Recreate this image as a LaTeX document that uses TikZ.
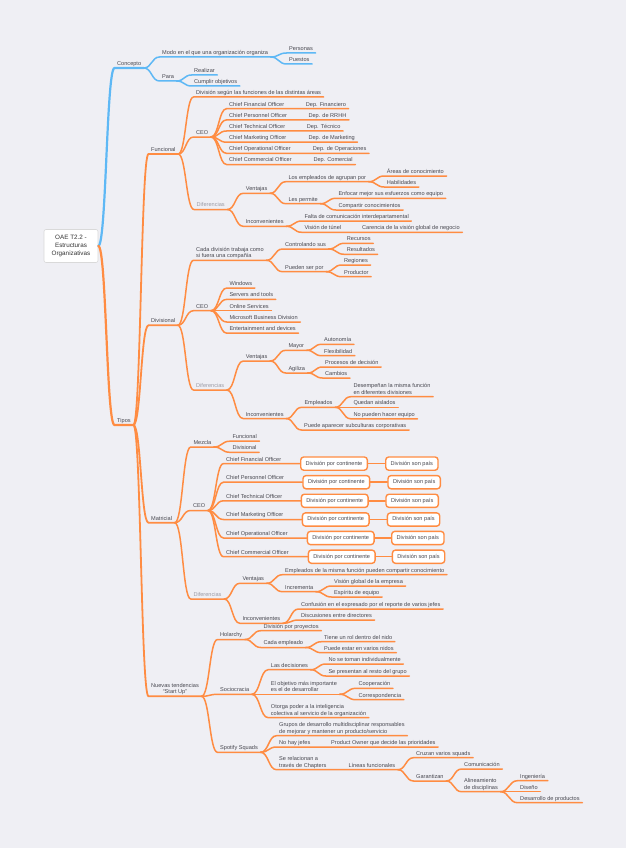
\documentclass[tikz,border=0pt]{standalone}
\usepackage{fontspec}
\setmainfont{Liberation Sans}
\usepackage{xcolor}
\usetikzlibrary{calc}
\definecolor{paper}{RGB}{239,239,244}
\definecolor{ink}{RGB}{72,72,80}
\definecolor{faded}{RGB}{155,155,165}
\definecolor{sky}{RGB}{94,184,245}
\definecolor{tang}{RGB}{255,140,66}
\tikzstyle{topic}   = [anchor=south west, inner xsep=2.5pt, inner ysep=1.2pt,
    text depth=1.2pt, align=left, text=ink, font=\fontsize{5.6}{6.7}\selectfont]
\tikzstyle{faint}   = [topic, text=faded]
\tikzstyle{cell}    = [rectangle, rounded corners=3pt, draw=tang, line width=1.4pt,
    fill=white, anchor=west, minimum height=13.2pt, inner xsep=5pt, text=ink,
    font=\fontsize{5.6}{6.7}\selectfont]
\tikzstyle{central} = [rectangle, rounded corners=2pt, draw=black!15, line width=0.6pt,
    fill=white, align=center, minimum width=54pt, minimum height=33pt, text=black!80,
    font=\fontsize{6.3}{8}\selectfont]
\tikzstyle{elbow}   = [to path={let \p1=(\tikztostart), \p2=(\tikztotarget) in
    .. controls ({0.5*\x1+0.5*\x2},\y1) and ({0.5*\x1+0.5*\x2},\y2) .. (\tikztotarget)}]
\tikzstyle{bline}   = [draw=sky, line width=1.5pt, line cap=round]
\tikzstyle{oline}   = [draw=tang, line width=1.5pt, line cap=round]
\begin{document}
\begin{tikzpicture}[x=1pt, y=-1pt]
    \fill [paper] (0,0) rectangle (626,848);
    \useasboundingbox (0,0) rectangle (626,848);

    \node (root)     [central] at (71,246) {OAE T2.2 -\\Estructuras\\Organizativas};

    \node (concepto) [topic] at (114.5,68)  {Concepto};
    \node (modo)     [topic] at (159.5,57)  {Modo en el que una organización organiza};
    \node (para)     [topic] at (159.5,81)  {Para};
    \node (personas) [topic] at (286.5,53)  {Personas};
    \node (puestos)  [topic] at (286.5,64)  {Puestos};
    \node (realizar) [topic] at (191.5,75)  {Realizar};
    \node (cumplir)  [topic] at (191.5,86)  {Cumplir objetivos};

    \node (tipos)     [topic] at (114.5,425) {Tipos};

    \node (funcional) [topic] at (148.5,154) {Funcional};
    \node (fsegun)    [topic] at (193.5,97)  {División según las funciones de las distintas áreas};
    \node (fceo)      [topic] at (193.5,137) {CEO};
    \node (fdif)      [faint] at (194,209.5) {Diferencias};
    \node (fc1) [topic] at (226.5,108.7) {Chief Financial Officer};
    \node (fc2) [topic] at (226.5,119.9) {Chief Personnel Officer};
    \node (fc3) [topic] at (226.5,131.0) {Chief Technical Officer};
    \node (fc4) [topic] at (226.5,142.2) {Chief Marketing Officer};
    \node (fc5) [topic] at (226.5,153.3) {Chief Operational Officer};
    \node (fc6) [topic] at (226.5,164.5) {Chief Commercial Officer};
    \node (fd1) [topic] at (303.2,108.7) {Dep. Financiero};
    \node (fd2) [topic] at (305.8,119.9) {Dep. de RRHH};
    \node (fd3) [topic] at (304.2,131.0) {Dep. Técnico};
    \node (fd4) [topic] at (305.8,142.2) {Dep. de Marketing};
    \node (fd5) [topic] at (310.2,153.3) {Dep. de Operaciones};
    \node (fd6) [topic] at (310.8,164.5) {Dep. Comercial};
    \node (fvent)     [topic] at (243.2,193.3) {Ventajas};
    \node (finc)      [topic] at (243.2,226.3) {Inconvenientes};
    \node (fagrup)    [topic] at (285.8,181.7) {Los empleados de agrupan por};
    \node (fpermite)  [topic] at (285.8,203.7) {Les permite};
    \node (fareas)    [topic] at (384.2,176)   {Áreas de conocimiento};
    \node (fhabil)    [topic] at (384.2,187)   {Habilidades};
    \node (fenfocar)  [topic] at (335.8,198.3) {Enfocar mejor sus esfuerzos como equipo};
    \node (fcompart)  [topic] at (335.8,210)   {Compartir conocimientos};
    \node (ffalta)    [topic] at (301.8,221)   {Falta de comunicación interdepartamental};
    \node (ftunel)    [topic] at (301.8,232.3) {Visión de túnel};
    \node (fcarencia) [topic] at (359.5,232.3) {Carencia de la visión global de negocio};

    \node (divisional) [topic] at (148.5,325.3) {Divisional};
    \node (dcada)      [topic] at (193.5,260.3) {Cada división trabaja como\\si fuera una compañía};
    \node (dceo)       [topic] at (193.5,310.7) {CEO};
    \node (ddif)       [faint] at (193.5,390)   {Diferencias};
    \node (dcontrol)   [topic] at (282.5,249)   {Controlando sus};
    \node (dpueden)    [topic] at (282.5,271.7) {Pueden ser por};
    \node (drecursos)  [topic] at (344.2,243.3) {Recursos};
    \node (dresult)    [topic] at (344.2,254.3) {Resultados};
    \node (dregiones)  [topic] at (341.5,265)   {Regiones};
    \node (dproduct)   [topic] at (341.5,276.7) {Productor};
    \node (dwin)       [topic] at (226.8,288)   {Windows};
    \node (dserv)      [topic] at (226.8,299.4) {Servers and tools};
    \node (donline)    [topic] at (226.8,310.7) {Online Services};
    \node (dmsbd)      [topic] at (226.8,322)   {Microsoft Business Division};
    \node (dent)       [topic] at (226.8,333.2) {Entertainment and devices};
    \node (dvent)      [topic] at (243.2,361)   {Ventajas};
    \node (dinc)       [topic] at (243.2,418.6) {Inconvenientes};
    \node (dmayor)     [topic] at (285.8,350.3) {Mayor};
    \node (dagil)      [topic] at (285.8,373)   {Agiliza};
    \node (dauto)      [topic] at (321.5,344.3) {Autonomía};
    \node (dflex)      [topic] at (321.5,355.7) {Flexibilidad};
    \node (dproc)      [topic] at (322.5,367)   {Procesos de decisión};
    \node (dcamb)      [topic] at (322.5,378)   {Cambios};
    \node (demp)       [topic] at (301.8,407.3) {Empleados};
    \node (dsubc)      [topic] at (301.5,430)   {Puede aparecer subculturas corporativas};
    \node (ddesemp)    [topic] at (350.8,396.7) {Desempeñan la misma función\\en diferentes divisiones};
    \node (daisl)      [topic] at (350.8,407.3) {Quedan aislados};
    \node (dequipo)    [topic] at (350.8,418.8) {No pueden hacer equipo};

    \node (matricial) [topic] at (148.5,522.7) {Matricial};
    \node (mmezcla)   [topic] at (190.8,447)   {Mezcla};
    \node (mceo)      [topic] at (190.5,510.5) {CEO};
    \node (mdif)      [faint] at (190.8,599)   {Diferencias};
    \node (mfunc)     [topic] at (229.8,441.2) {Funcional};
    \node (mdivi)     [topic] at (229.8,452.3) {Divisional};
    \node (mc1) [topic] at (223.5,463.6) {Chief Financial Officer};
    \node (mc2) [topic] at (223.5,482.2) {Chief Personnel Officer};
    \node (mc3) [topic] at (223.5,500.8) {Chief Technical Officer};
    \node (mc4) [topic] at (223.5,519.5) {Chief Marketing Officer};
    \node (mc5) [topic] at (223.5,538)   {Chief Operational Officer};
    \node (mc6) [topic] at (223.5,556.7) {Chief Commercial Officer};
    \node (mk1) [cell] at (300,463.6)   {División por continente};
    \node (mk2) [cell] at (302.3,482.2) {División por continente};
    \node (mk3) [cell] at (300.7,500.8) {División por continente};
    \node (mk4) [cell] at (301.7,519.5) {División por continente};
    \node (mk5) [cell] at (306.7,538)   {División por continente};
    \node (mk6) [cell] at (307.7,556.7) {División por continente};
    \node (mp1) [cell] at (385,463.6)   {División son país};
    \node (mp2) [cell] at (387.3,482.2) {División son país};
    \node (mp3) [cell] at (385.3,500.8) {División son país};
    \node (mp4) [cell] at (386.7,519.5) {División son país};
    \node (mp5) [cell] at (391,538)     {División son país};
    \node (mp6) [cell] at (391.7,556.7) {División son país};
    \node (mvent)     [topic] at (239.8,583.3) {Ventajas};
    \node (minc)      [topic] at (239.8,623.3) {Inconvenientes};
    \node (mcomp)     [topic] at (282.5,574.7) {Empleados de la misma función pueden compartir conocimiento};
    \node (mincr)     [topic] at (282.5,591.7) {Incrementa};
    \node (mvision)   [topic] at (331.5,586)   {Visión global de la empresa};
    \node (mespiritu) [topic] at (331.5,597)   {Espíritu de equipo};
    \node (mconf)     [topic] at (298.5,609)   {Confusión en el expresado por el reporte de varios jefes};
    \node (mdisc)     [topic] at (298.5,620)   {Discusiones entre directores};

    \node (nuevas)   [topic, align=center] at (148.5,696.3) {Nuevas tendencias\\“Start Up”};
    \node (holarchy) [topic] at (217.5,639.5) {Holarchy};
    \node (socio)    [topic] at (217.5,694.3) {Sociocracia};
    \node (spotify)  [topic] at (217.5,752.3) {Spotify Squads};
    \node (nproy)    [topic] at (260.8,630.7) {División por proyectos};
    \node (ncada)    [topic] at (260.8,647.5) {Cada empleado};
    \node (nrol)     [topic] at (321.5,641.7) {Tiene un rol dentro del nido};
    \node (nnidos)   [topic] at (321.5,652.7) {Puede estar en varios nidos};
    \node (ndecis)   [topic] at (268.2,669.7) {Las decisiones};
    \node (nobj)     [topic] at (268.2,694.3) {El objetivo más importante\\es el de desarrollar};
    \node (notorga)  [topic] at (268.2,717.7) {Otorga poder a la inteligencia\\colectiva al servicio de la organización};
    \node (nindiv)   [topic] at (325.8,664)   {No se toman individualmente};
    \node (npres)    [topic] at (325.8,676)   {Se presentan al resto del grupo};
    \node (ncoop)    [topic] at (355.8,688.3) {Cooperación};
    \node (ncorr)    [topic] at (355.8,699.7) {Correspondencia};
    \node (ngrupos)  [topic] at (276.5,735.7) {Grupos de desarrollo multidisciplinar responsables\\de mejorar y mantener un producto/servicio};
    \node (njefes)   [topic] at (276.5,747)   {No hay jefes};
    \node (nrelac)   [topic] at (276.5,769.7) {Se relacionan a\\través de Chapters};
    \node (nowner)   [topic] at (328.5,747)   {Product Owner que decide las prioridades};
    \node (nlineas)  [topic] at (345.8,769.7) {Líneas funcionales};
    \node (ncruzan)  [topic] at (413.5,757.7) {Cruzan varios squads};
    \node (ngarant)  [topic] at (413.5,781)   {Garantizan};
    \node (ncomun)   [topic] at (461.5,769)   {Comunicación};
    \node (nalin)    [topic] at (461.5,791.7) {Alineamiento\\de disciplinas};
    \node (ning)     [topic] at (517.5,780.7) {Ingeniería};
    \node (ndis)     [topic] at (517.5,791.7) {Diseño};
    \node (ndesa)    [topic] at (517.5,802.7) {Desarrollo de productos};

    \draw [bline, line width=2.2pt] (root.east) to[elbow] (concepto.south west) -- (concepto.south east);
    \draw [bline] (concepto.south east) to[elbow] (modo.south west) -- (modo.south east);
    \draw [bline] (concepto.south east) to[elbow] (para.south west) -- (para.south east);
    \draw [bline] (modo.south east) to[elbow] (personas.south west) -- (personas.south east);
    \draw [bline] (modo.south east) to[elbow] (puestos.south west) -- (puestos.south east);
    \draw [bline] (para.south east) to[elbow] (realizar.south west) -- (realizar.south east);
    \draw [bline] (para.south east) to[elbow] (cumplir.south west) -- (cumplir.south east);

    \draw [oline, line width=2.2pt] (root.east) to[elbow] (tipos.south west) -- (tipos.south east);
    \draw [oline, line width=1.8pt] (tipos.south east) to[elbow] (funcional.south west) -- (funcional.south east);
    \draw [oline, line width=1.8pt] (tipos.south east) to[elbow] (divisional.south west) -- (divisional.south east);
    \draw [oline, line width=1.8pt] (tipos.south east) to[elbow] (matricial.south west) -- (matricial.south east);
    \draw [oline, line width=1.8pt] (tipos.south east) to[elbow] (nuevas.south west) -- (nuevas.south east);

    \draw [oline] (funcional.south east) to[elbow] (fsegun.south west) -- (fsegun.south east);
    \draw [oline] (funcional.south east) to[elbow] (fceo.south west) -- (fceo.south east);
    \draw [oline] (funcional.south east) to[elbow] (fdif.south west) -- (fdif.south east);
    \draw [oline] (fceo.south east) to[elbow] (fc1.south west) -- (fd1.south east);
    \draw [oline] (fceo.south east) to[elbow] (fc2.south west) -- (fd2.south east);
    \draw [oline] (fceo.south east) to[elbow] (fc3.south west) -- (fd3.south east);
    \draw [oline] (fceo.south east) to[elbow] (fc4.south west) -- (fd4.south east);
    \draw [oline] (fceo.south east) to[elbow] (fc5.south west) -- (fd5.south east);
    \draw [oline] (fceo.south east) to[elbow] (fc6.south west) -- (fd6.south east);
    \draw [oline] (fdif.south east) to[elbow] (fvent.south west) -- (fvent.south east);
    \draw [oline] (fdif.south east) to[elbow] (finc.south west) -- (finc.south east);
    \draw [oline] (fvent.south east) to[elbow] (fagrup.south west) -- (fagrup.south east);
    \draw [oline] (fvent.south east) to[elbow] (fpermite.south west) -- (fpermite.south east);
    \draw [oline] (fagrup.south east) to[elbow] (fareas.south west) -- (fareas.south east);
    \draw [oline] (fagrup.south east) to[elbow] (fhabil.south west) -- (fhabil.south east);
    \draw [oline] (fpermite.south east) to[elbow] (fenfocar.south west) -- (fenfocar.south east);
    \draw [oline] (fpermite.south east) to[elbow] (fcompart.south west) -- (fcompart.south east);
    \draw [oline] (finc.south east) to[elbow] (ffalta.south west) -- (ffalta.south east);
    \draw [oline] (finc.south east) to[elbow] (ftunel.south west) -- (fcarencia.south east);

    \draw [oline] (divisional.south east) to[elbow] (dcada.south west) -- (dcada.south east);
    \draw [oline] (divisional.south east) to[elbow] (dceo.south west) -- (dceo.south east);
    \draw [oline] (divisional.south east) to[elbow] (ddif.south west) -- (ddif.south east);
    \draw [oline] (dcada.south east) to[elbow] (dcontrol.south west) -- (dcontrol.south east);
    \draw [oline] (dcada.south east) to[elbow] (dpueden.south west) -- (dpueden.south east);
    \draw [oline] (dcontrol.south east) to[elbow] (drecursos.south west) -- (drecursos.south east);
    \draw [oline] (dcontrol.south east) to[elbow] (dresult.south west) -- (dresult.south east);
    \draw [oline] (dpueden.south east) to[elbow] (dregiones.south west) -- (dregiones.south east);
    \draw [oline] (dpueden.south east) to[elbow] (dproduct.south west) -- (dproduct.south east);
    \draw [oline] (dceo.south east) to[elbow] (dwin.south west) -- (dwin.south east);
    \draw [oline] (dceo.south east) to[elbow] (dserv.south west) -- (dserv.south east);
    \draw [oline] (dceo.south east) to[elbow] (donline.south west) -- (donline.south east);
    \draw [oline] (dceo.south east) to[elbow] (dmsbd.south west) -- (dmsbd.south east);
    \draw [oline] (dceo.south east) to[elbow] (dent.south west) -- (dent.south east);
    \draw [oline] (ddif.south east) to[elbow] (dvent.south west) -- (dvent.south east);
    \draw [oline] (ddif.south east) to[elbow] (dinc.south west) -- (dinc.south east);
    \draw [oline] (dvent.south east) to[elbow] (dmayor.south west) -- (dmayor.south east);
    \draw [oline] (dvent.south east) to[elbow] (dagil.south west) -- (dagil.south east);
    \draw [oline] (dmayor.south east) to[elbow] (dauto.south west) -- (dauto.south east);
    \draw [oline] (dmayor.south east) to[elbow] (dflex.south west) -- (dflex.south east);
    \draw [oline] (dagil.south east) to[elbow] (dproc.south west) -- (dproc.south east);
    \draw [oline] (dagil.south east) to[elbow] (dcamb.south west) -- (dcamb.south east);
    \draw [oline] (dinc.south east) to[elbow] (demp.south west) -- (demp.south east);
    \draw [oline] (dinc.south east) to[elbow] (dsubc.south west) -- (dsubc.south east);
    \draw [oline] (demp.south east) to[elbow] (ddesemp.south west) -- (ddesemp.south east);
    \draw [oline] (demp.south east) to[elbow] (daisl.south west) -- (daisl.south east);
    \draw [oline] (demp.south east) to[elbow] (dequipo.south west) -- (dequipo.south east);

    \draw [oline] (matricial.south east) to[elbow] (mmezcla.south west) -- (mmezcla.south east);
    \draw [oline] (matricial.south east) to[elbow] (mceo.south west) -- (mceo.south east);
    \draw [oline] (matricial.south east) to[elbow] (mdif.south west) -- (mdif.south east);
    \draw [oline] (mmezcla.south east) to[elbow] (mfunc.south west) -- (mfunc.south east);
    \draw [oline] (mmezcla.south east) to[elbow] (mdivi.south west) -- (mdivi.south east);
    \draw [oline] (mceo.south east) to[elbow] (mc1.south west) -- (mk1.west);
    \draw [oline] (mceo.south east) to[elbow] (mc2.south west) -- (mk2.west);
    \draw [oline] (mceo.south east) to[elbow] (mc3.south west) -- (mk3.west);
    \draw [oline] (mceo.south east) to[elbow] (mc4.south west) -- (mk4.west);
    \draw [oline] (mceo.south east) to[elbow] (mc5.south west) -- (mk5.west);
    \draw [oline] (mceo.south east) to[elbow] (mc6.south west) -- (mk6.west);
    \draw [oline] (mk1.east) -- (mp1.west);
    \draw [oline] (mk2.east) -- (mp2.west);
    \draw [oline] (mk3.east) -- (mp3.west);
    \draw [oline] (mk4.east) -- (mp4.west);
    \draw [oline] (mk5.east) -- (mp5.west);
    \draw [oline] (mk6.east) -- (mp6.west);
    \draw [oline] (mdif.south east) to[elbow] (mvent.south west) -- (mvent.south east);
    \draw [oline] (mdif.south east) to[elbow] (minc.south west) -- (minc.south east);
    \draw [oline] (mvent.south east) to[elbow] (mcomp.south west) -- (mcomp.south east);
    \draw [oline] (mvent.south east) to[elbow] (mincr.south west) -- (mincr.south east);
    \draw [oline] (mincr.south east) to[elbow] (mvision.south west) -- (mvision.south east);
    \draw [oline] (mincr.south east) to[elbow] (mespiritu.south west) -- (mespiritu.south east);
    \draw [oline] (minc.south east) to[elbow] (mconf.south west) -- (mconf.south east);
    \draw [oline] (minc.south east) to[elbow] (mdisc.south west) -- (mdisc.south east);

    \draw [oline] (nuevas.south east) to[elbow] (holarchy.south west) -- (holarchy.south east);
    \draw [oline] (nuevas.south east) to[elbow] (socio.south west) -- (socio.south east);
    \draw [oline] (nuevas.south east) to[elbow] (spotify.south west) -- (spotify.south east);
    \draw [oline] (holarchy.south east) to[elbow] (nproy.south west) -- (nproy.south east);
    \draw [oline] (holarchy.south east) to[elbow] (ncada.south west) -- (ncada.south east);
    \draw [oline] (ncada.south east) to[elbow] (nrol.south west) -- (nrol.south east);
    \draw [oline] (ncada.south east) to[elbow] (nnidos.south west) -- (nnidos.south east);
    \draw [oline] (socio.south east) to[elbow] (ndecis.south west) -- (ndecis.south east);
    \draw [oline] (socio.south east) to[elbow] (nobj.south west) -- (nobj.south east);
    \draw [oline] (socio.south east) to[elbow] (notorga.south west) -- (notorga.south east);
    \draw [oline] (ndecis.south east) to[elbow] (nindiv.south west) -- (nindiv.south east);
    \draw [oline] (ndecis.south east) to[elbow] (npres.south west) -- (npres.south east);
    \draw [oline] (nobj.south east) to[elbow] (ncoop.south west) -- (ncoop.south east);
    \draw [oline] (nobj.south east) to[elbow] (ncorr.south west) -- (ncorr.south east);
    \draw [oline] (spotify.south east) to[elbow] (ngrupos.south west) -- (ngrupos.south east);
    \draw [oline] (spotify.south east) to[elbow] (njefes.south west) -- (nowner.south east);
    \draw [oline] (spotify.south east) to[elbow] (nrelac.south west) -- (nlineas.south east);
    \draw [oline] (nlineas.south east) to[elbow] (ncruzan.south west) -- (ncruzan.south east);
    \draw [oline] (nlineas.south east) to[elbow] (ngarant.south west) -- (ngarant.south east);
    \draw [oline] (ngarant.south east) to[elbow] (ncomun.south west) -- (ncomun.south east);
    \draw [oline] (ngarant.south east) to[elbow] (nalin.south west) -- (nalin.south east);
    \draw [oline] (nalin.south east) to[elbow] (ning.south west) -- (ning.south east);
    \draw [oline] (nalin.south east) to[elbow] (ndis.south west) -- (ndis.south east);
    \draw [oline] (nalin.south east) to[elbow] (ndesa.south west) -- (ndesa.south east);
\end{tikzpicture}
\end{document}
